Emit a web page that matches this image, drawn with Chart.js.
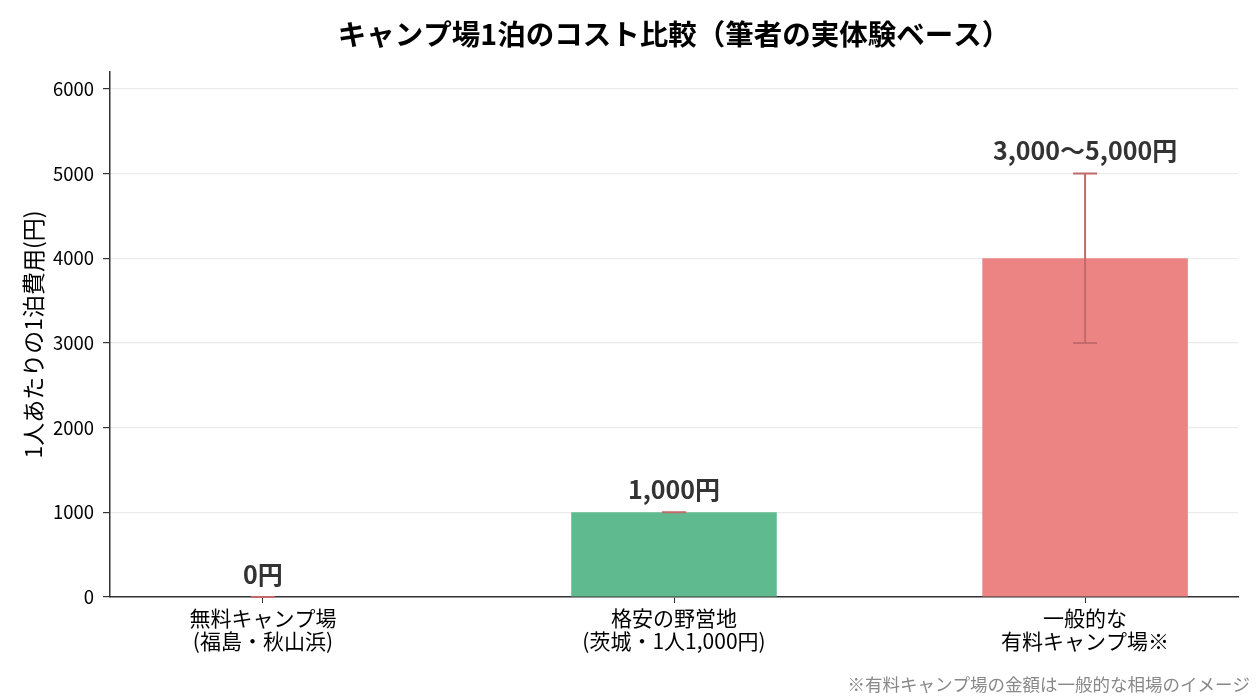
<!DOCTYPE html>
<html>
<head>
<meta charset="utf-8">
<script src="https://cdn.jsdelivr.net/npm/chart.js@4.4.1/dist/chart.umd.min.js"></script>
<style>
  body { margin: 0; background: #fff; }
  canvas { display: block; }
</style>
</head>
<body>
<canvas id="myChart" width="1260" height="700"></canvas>
<script>
const jpFont = "'Noto Sans CJK JP', 'Noto Sans', sans-serif";

// data
const categories = [
    ["無料キャンプ場", "(福島・秋山浜)"],
    ["格安の野営地", "(茨城・1人1,000円)"],
    ["一般的な", "有料キャンプ場※"]
];
const xPos = [0, 1, 2];
const costs = [0, 1000, 4000];
const errLow = [0, 0, 1000];
const errHigh = [0, 0, 1000];
const valueLabels = ["0円", "1,000円", "3,000〜5,000円"];
const barColors = ["#5fba8f", "#5fba8f", "#eb8482"];
const yTicks = [0, 1000, 2000, 3000, 4000, 5000, 6000];

const chartTitle = "キャンプ場1泊のコスト比較（筆者の実体験ベース）";
const footnote = "※有料キャンプ場の金額は一般的な相場のイメージ";

//error bars, labels above the bars, title centred on the axes, footnote
const extrasPlugin = {
    id: 'extras',
    afterDatasetsDraw(chart) {
        const c = chart.ctx;
        const xs = chart.scales.x;
        const ys = chart.scales.y;
        c.save();
        c.strokeStyle = "#c46a6a";
        c.lineWidth = 2;
        for (let i = 0; i < costs.length; i++) {
            let px = xs.getPixelForValue(xPos[i]);
            let lo = ys.getPixelForValue(costs[i] - errLow[i]);
            let hi = ys.getPixelForValue(costs[i] + errHigh[i]);
            c.beginPath();
            c.moveTo(px, lo); c.lineTo(px, hi);
            c.moveTo(px - 12, lo); c.lineTo(px + 12, lo);
            c.moveTo(px - 12, hi); c.lineTo(px + 12, hi);
            c.stroke();
        }
        c.fillStyle = "#333333";
        c.font = "bold 25px " + jpFont;
        c.textAlign = "center";
        c.textBaseline = "middle";
        for (let i = 0; i < costs.length; i++) {
            let px = xs.getPixelForValue(xPos[i]);
            let top = ys.getPixelForValue(costs[i] + errHigh[i]);
            c.fillText(valueLabels[i], px, top - 23);
        }
        c.restore();
    },
    afterDraw(chart) {
        const c = chart.ctx;
        const area = chart.chartArea;
        c.save();
        c.fillStyle = "#000000";
        c.font = "bold 28.5px " + jpFont;
        c.textAlign = "center";
        c.textBaseline = "middle";
        c.fillText(chartTitle, (area.left + area.right) / 2, 34);

        c.fillStyle = "#888888";
        c.font = "17.5px " + jpFont;
        c.textAlign = "right";
        c.fillText(footnote, 1250, 684);
        c.restore();
    }
};

const chart = new Chart(document.getElementById('myChart'), {
    type: 'bar',
    data: {
        datasets: [{
            data: xPos.map((x, i) => ({ x: x, y: costs[i] })),
            backgroundColor: barColors,
            borderWidth: 0,
            barPercentage: 0.5,
            categoryPercentage: 1.0
        }]
    },
    options: {
        responsive: false,
        animation: false,
        layout: {
            padding: { left: 0, right: 22, top: 72, bottom: 0 }
        },
        plugins: {
            legend: { display: false },
            tooltip: { enabled: false },
            title: { display: false }
        },
        scales: {
            x: {
                type: 'linear',
                min: -0.372,
                max: 2.372,
                offset: false,
                afterBuildTicks: function(scale) {
                    scale.ticks = xPos.map(v => ({ value: v }));
                },
                afterFit: function(scale) {
                    scale.height = 103;
                },
                ticks: {
                    color: "#000000",
                    font: { family: jpFont, size: 21, lineHeight: 1.1 },
                    padding: 3,
                    maxRotation: 0,
                    autoSkip: false,
                    callback: function(v) {
                        let i = xPos.indexOf(v);
                        return i >= 0 ? categories[i] : "";
                    }
                },
                grid: {
                    offset: false,
                    drawOnChartArea: false,
                    drawTicks: true,
                    tickLength: 6,
                    tickColor: "#333333"
                },
                border: { display: true, color: "#333333", width: 1.5 }
            },
            y: {
                min: 0,
                max: 6200,
                afterBuildTicks: function(scale) {
                    scale.ticks = yTicks.map(v => ({ value: v }));
                },
                afterFit: function(scale) {
                    scale.width = 110;
                },
                ticks: {
                    color: "#000000",
                    font: { family: jpFont, size: 18.5 },
                    padding: 9,
                    callback: function(v) { return String(v); }
                },
                grid: {
                    color: "#ebebeb",
                    lineWidth: 1.2,
                    tickLength: 7,
                    tickColor: "#333333"
                },
                border: { display: true, color: "#333333", width: 1.5 },
                title: {
                    display: true,
                    text: "1人あたりの1泊費用(円)",
                    color: "#000000",
                    font: { family: jpFont, size: 23 },
                    padding: { top: 19, bottom: 0 }
                }
            }
        }
    },
    plugins: [extrasPlugin]
});
</script>
</body>
</html>
